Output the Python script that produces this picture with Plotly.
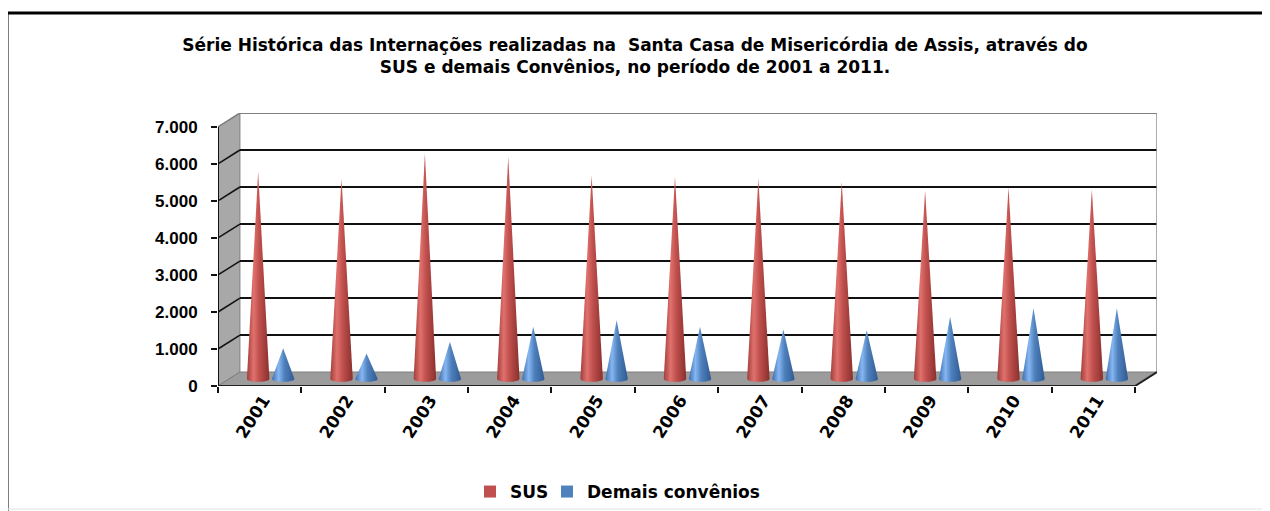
import numpy as np
import plotly.graph_objects as go

# ---------------- data ----------------
years = ["2001", "2002", "2003", "2004", "2005", "2006", "2007", "2008", "2009", "2010", "2011"]
sus = [5600, 5420, 6100, 6010, 5510, 5470, 5420, 5330, 5100, 5180, 5130]
demais = [830, 690, 1010, 1410, 1590, 1410, 1340, 1320, 1680, 1910, 1910]
y_tick_vals = [0, 1000, 2000, 3000, 4000, 5000, 6000, 7000]
y_tick_text = ["0", "1.000", "2.000", "3.000", "4.000", "5.000", "6.000", "7.000"]
series_names = ["SUS", "Demais convênios"]
title_text = ("Série Histórica das Internações realizadas na  Santa Casa de Misericórdia de Assis, através do"
              "<br>SUS e demais Convênios, no período de 2001 a 2011.")

# ---------------- geometry / style ----------------
O = 8                      # page body margin offset
W, H = 1270 - O, 511 - O
ML, MT = 218 - O, 113 - O
PW, PH = 939, 273
MR, MB = W - ML - PW, H - MT - PH
n = len(years)
DX = 0.263           # depth offset (category units)
DY = 378             # depth offset (value units)
YMAX = y_tick_vals[-1]
x_range = [-0.5, n - 0.5 + DX]
y_range = [0, YMAX + DY]

FONT = "Liberation Sans"
WIDE = "DejaVu Sans"
RED_SCALE = [[0, "#A13E3B"], [0.3, "#E0716D"], [0.55, "#C0504D"], [1, "#8A302E"]]
BLUE_SCALE = [[0, "#3E6DAE"], [0.3, "#86B7F2"], [0.55, "#4F81BD"], [1, "#2F5A92"]]
HALF_W = 0.135
OFFS = [-0.15, 0.15]
ELL = 80


def px_x(p):
    """screen pixel -> paper x"""
    return (p - O - ML) / PW


def px_y(p):
    """screen pixel -> paper y"""
    return (MT + PH - (p - O)) / PH


def cone(cx, val):
    base = DY / 2
    t = np.linspace(0, np.pi, 25)
    xs = [cx - HALF_W, cx, cx + HALF_W] + list(cx + HALF_W * np.cos(t))
    ys = [base, base + val, base] + list(base - ELL * np.sin(t))
    return xs, ys


fig = go.Figure()

for s_idx, (vals, scale) in enumerate([(sus, RED_SCALE), (demais, BLUE_SCALE)]):
    for i, v in enumerate(vals):
        xs, ys = cone(i + OFFS[s_idx] + DX / 2, v)
        fig.add_trace(go.Scatter(
            x=xs, y=ys, mode="lines", fill="toself",
            line=dict(width=0, color=scale[2][1]),
            fillgradient=dict(type="horizontal", colorscale=scale),
            showlegend=False, hoverinfo="skip"))

# legend entries
for name, col, lw in zip(series_names, ["#C0504D", "#4F81BD"], [32, 180]):
    fig.add_trace(go.Scatter(x=[None], y=[None], mode="markers", name=name, legendwidth=lw,
                             marker=dict(symbol="square", size=9, color=col)))

shapes = []
# left wall
shapes.append(dict(type="path", layer="below",
                   path=f"M -0.5,0 L -0.5,{YMAX} L {-0.5+DX},{YMAX+DY} L {-0.5+DX},{DY} Z",
                   fillcolor="#A8A8A8", line=dict(color="#7F7F7F", width=1)))
# floor
shapes.append(dict(type="path", layer="below",
                   path=f"M -0.5,0 L {n-0.5},0 L {n-0.5+DX},{DY} L {-0.5+DX},{DY} Z",
                   fillcolor="#9C9C9C", line=dict(color="#7F7F7F", width=1)))
# back-wall gridlines and wall diagonals
for v in y_tick_vals[1:]:
    col = "#808080" if v == YMAX else "#111111"
    shapes.append(dict(type="line", layer="below", x0=-0.5 + DX, x1=n - 0.5 + DX, y0=v + DY, y1=v + DY,
                       line=dict(color=col, width=2)))
    shapes.append(dict(type="line", layer="below", x0=-0.5, x1=-0.5 + DX, y0=v, y1=v + DY,
                       line=dict(color=col, width=1.5)))
# back wall right edge
shapes.append(dict(type="line", layer="below", x0=n - 0.5 + DX, x1=n - 0.5 + DX, y0=DY, y1=YMAX + DY,
                   line=dict(color="#909090", width=1.5)))
# floor front edge + right diagonal
shapes.append(dict(type="line", x0=-0.5, x1=n - 0.5, y0=0, y1=0, line=dict(color="#222", width=2)))
shapes.append(dict(type="line", x0=n - 0.5, x1=n - 0.5 + DX, y0=0, y1=DY, line=dict(color="#222", width=2)))
# y axis line
shapes.append(dict(type="line", x0=-0.5, x1=-0.5, y0=0, y1=YMAX, line=dict(color="#111", width=2)))
# outer frame
shapes.append(dict(type="line", xref="paper", yref="paper", x0=px_x(7), x1=px_x(7), y0=px_y(12), y1=px_y(520),
                   line=dict(color="black", width=3)))
shapes.append(dict(type="line", xref="paper", yref="paper", x0=px_x(6), x1=px_x(1280), y0=px_y(13), y1=px_y(13),
                   line=dict(color="black", width=3)))
shapes.append(dict(type="line", xref="paper", yref="paper", x0=px_x(1268), x1=px_x(1268), y0=px_y(14), y1=px_y(509),
                   line=dict(color="#E4E4E4", width=1)))
shapes.append(dict(type="line", xref="paper", yref="paper", x0=px_x(8), x1=px_x(1268), y0=px_y(509), y1=px_y(509),
                   line=dict(color="#E4E4E4", width=1)))

fig.update_layout(
    width=W, height=H,
    margin=dict(l=ML, r=MR, t=MT, b=MB, autoexpand=False),
    paper_bgcolor="white", plot_bgcolor="white",
    shapes=shapes,
    title=dict(text=title_text, x=(635 - O) / W, xref="container", xanchor="center",
               y=1 - 43 / H, yref="container", yanchor="top",
               font=dict(family=WIDE, size=17, color="black", weight="bold")),
    xaxis=dict(range=x_range, showgrid=False, zeroline=False, showline=False, automargin=False,
               tickmode="array", tickvals=list(range(n)), ticktext=years, ticks="",
               tickangle=-57, ticklabelshift=4,
               tickfont=dict(family=WIDE, size=17, color="black", weight="bold"),
               minor=dict(tickmode="linear", tick0=-0.5, dtick=1, ticks="outside", ticklen=6,
                          tickwidth=1.5, tickcolor="#111", showgrid=False)),
    yaxis=dict(range=y_range, showgrid=False, zeroline=False, showline=False, automargin=False,
               tickmode="array", tickvals=y_tick_vals, ticktext=y_tick_text,
               ticks="outside", ticklen=6, tickwidth=2, tickcolor="#111", ticklabelstandoff=10,
               tickfont=dict(family=FONT, size=17, color="black", weight="bold")),
    legend=dict(orientation="h", x=px_x(470), xanchor="left", y=px_y(492), yanchor="middle",
                bgcolor="rgba(0,0,0,0)",
                font=dict(family=WIDE, size=17, color="black", weight="bold"),
                itemsizing="constant", itemwidth=30, tracegroupgap=0),
    showlegend=True,
)

fig.write_html("out.html")
